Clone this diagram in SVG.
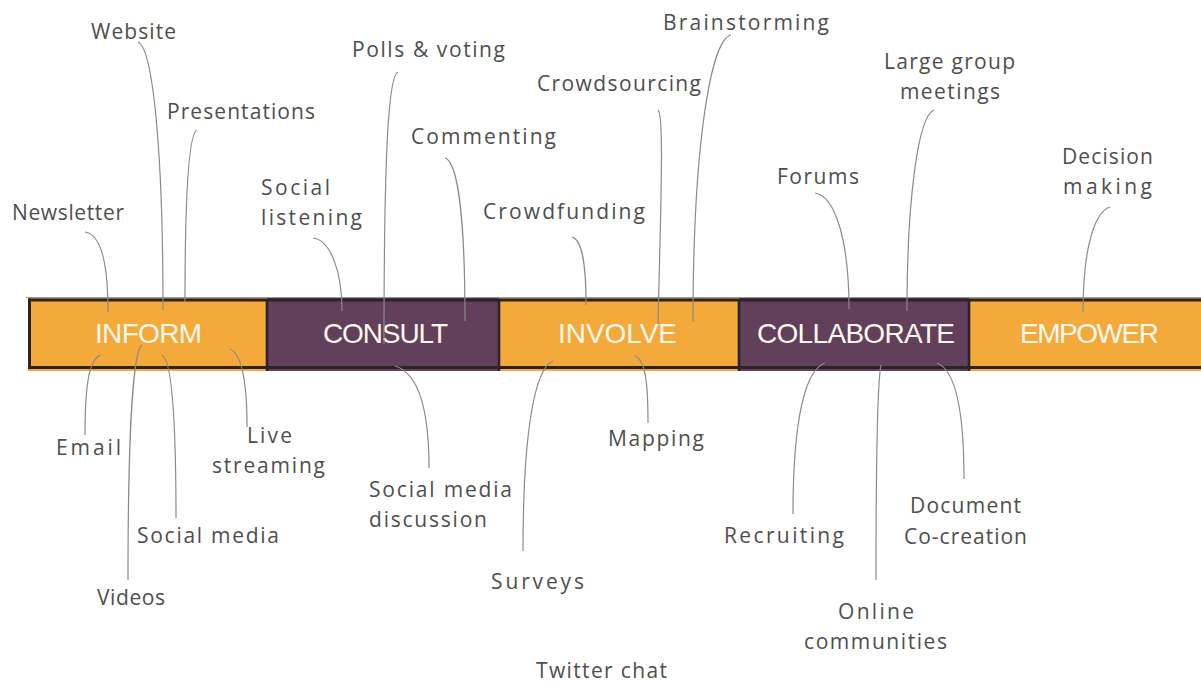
<svg xmlns="http://www.w3.org/2000/svg" width="1201" height="684" viewBox="0 0 1201 684">
<style>
.lbl{font-family:"Open Sans","Liberation Sans",sans-serif;font-size:21px;fill:#4E4E4E}
.bar{font-family:"Liberation Sans","DejaVu Sans",sans-serif;font-size:28px;fill:#FFF8EC}
.seg-o{fill:#F4A93B}
.seg-p{fill:#62405B}
.edge{stroke:#2B2326;fill:none}
#connectors path{fill:none;stroke:#8A8A8A;stroke-width:1.2}
</style>
<rect x="0" y="0" width="1201" height="684" fill="#FFFFFF"/>
<g id="bar">
  <line x1="26" y1="297.5" x2="1201" y2="297.5" stroke="#9A9A9A" stroke-width="1"/>
  <g id="inform"><rect class="seg-o" x="28" y="298" width="239" height="73"/><text class="bar" x="95" y="343" textLength="107" lengthAdjust="spacing">INFORM</text></g>
  <g id="consult"><rect class="seg-p" x="267" y="298" width="232" height="73"/><text class="bar" x="323" y="343" textLength="125" lengthAdjust="spacing">CONSULT</text></g>
  <g id="involve"><rect class="seg-o" x="499" y="298" width="240" height="73"/><text class="bar" x="558" y="343" textLength="119" lengthAdjust="spacing">INVOLVE</text></g>
  <g id="collaborate"><rect class="seg-p" x="739" y="298" width="230" height="73"/><text class="bar" x="757" y="343" textLength="198" lengthAdjust="spacing">COLLABORATE</text></g>
  <g id="empower"><rect class="seg-o" x="969" y="298" width="232" height="73"/><text class="bar" x="1020" y="343" textLength="139" lengthAdjust="spacing">EMPOWER</text></g>
  <line class="edge" x1="28" y1="300" x2="1201" y2="300" stroke-width="3"/>
  <line class="edge" x1="28" y1="367.5" x2="1201" y2="367.5" stroke-width="3"/>
  <line class="edge" x1="29.5" y1="298.5" x2="29.5" y2="369" stroke-width="3"/>
  <line class="edge" x1="267" y1="299" x2="267" y2="371" stroke-width="2.6"/>
  <line class="edge" x1="499" y1="299" x2="499" y2="371" stroke-width="2.6"/>
  <line class="edge" x1="739" y1="299" x2="739" y2="371" stroke-width="2.6"/>
  <line class="edge" x1="969" y1="299" x2="969" y2="371" stroke-width="2.6"/>
</g>
<g id="connectors">
  <path d="M85,232 C100,234 108,260 108,312"/>
  <path d="M138,42 C152,48 163,140 163,310"/>
  <path d="M197,130 C188,134 185,200 185,302"/>
  <path d="M313,238 C330,240 342,270 342,311"/>
  <path d="M398,72 C388,76 384,160 384,344"/>
  <path d="M445,158 C458,162 465,220 465,321"/>
  <path d="M572,237 C582,240 586,262 586,305"/>
  <path d="M658,110 C664,114 661,200 658,324"/>
  <path d="M731,35 C710,40 693,150 693,322"/>
  <path d="M815,193 C835,196 849,240 849,309"/>
  <path d="M934,110 C918,116 907,200 907,311"/>
  <path d="M1110,207 C1094,212 1083,250 1083,312"/>
  <path d="M100,355 C90,360 85,380 85,435"/>
  <path d="M142,345 C134,350 128,420 128,580"/>
  <path d="M162,355 C172,360 176,420 176,518"/>
  <path d="M230,349 C242,354 247,380 247,427"/>
  <path d="M395,366 C415,372 429,400 429,468"/>
  <path d="M553,361 C535,368 523,430 523,551"/>
  <path d="M635,356 C645,360 648,380 648,423"/>
  <path d="M825,363 C805,370 793,420 793,514"/>
  <path d="M881,365 C878,380 876,450 876,580"/>
  <path d="M937,363 C955,370 964,410 964,479"/>
</g>
<g id="website"><text class="lbl" x="91" y="39" textLength="85" lengthAdjust="spacing">Website</text></g>
<g id="presentations"><text class="lbl" x="167" y="119" textLength="148" lengthAdjust="spacing">Presentations</text></g>
<g id="polls"><text class="lbl" x="352" y="57" textLength="153" lengthAdjust="spacing">Polls &amp; voting</text></g>
<g id="brainstorming"><text class="lbl" x="663" y="30" textLength="166" lengthAdjust="spacing">Brainstorming</text></g>
<g id="crowdsourcing"><text class="lbl" x="537" y="91" textLength="164" lengthAdjust="spacing">Crowdsourcing</text></g>
<g id="commenting"><text class="lbl" x="411" y="144" textLength="145" lengthAdjust="spacing">Commenting</text></g>
<g id="large-group"><text class="lbl" x="884" y="69" textLength="131" lengthAdjust="spacing">Large group</text><text class="lbl" x="900" y="99" textLength="100" lengthAdjust="spacing">meetings</text></g>
<g id="social-listening"><text class="lbl" x="261" y="195" textLength="69" lengthAdjust="spacing">Social</text><text class="lbl" x="261" y="225" textLength="101" lengthAdjust="spacing">listening</text></g>
<g id="newsletter"><text class="lbl" x="12" y="220" textLength="112" lengthAdjust="spacing">Newsletter</text></g>
<g id="crowdfunding"><text class="lbl" x="483" y="219" textLength="162" lengthAdjust="spacing">Crowdfunding</text></g>
<g id="forums"><text class="lbl" x="777" y="184" textLength="82" lengthAdjust="spacing">Forums</text></g>
<g id="decision"><text class="lbl" x="1062" y="164" textLength="91" lengthAdjust="spacing">Decision</text><text class="lbl" x="1063" y="194" textLength="89" lengthAdjust="spacing">making</text></g>
<g id="email"><text class="lbl" x="56" y="455" textLength="65" lengthAdjust="spacing">Email</text></g>
<g id="live"><text class="lbl" x="247" y="443" textLength="45" lengthAdjust="spacing">Live</text><text class="lbl" x="212" y="473" textLength="113" lengthAdjust="spacing">streaming</text></g>
<g id="social-media"><text class="lbl" x="137" y="543" textLength="142" lengthAdjust="spacing">Social media</text></g>
<g id="videos"><text class="lbl" x="97" y="605" textLength="68" lengthAdjust="spacing">Videos</text></g>
<g id="smd"><text class="lbl" x="369" y="497" textLength="143" lengthAdjust="spacing">Social media</text><text class="lbl" x="369" y="527" textLength="118" lengthAdjust="spacing">discussion</text></g>
<g id="mapping"><text class="lbl" x="608" y="446" textLength="96" lengthAdjust="spacing">Mapping</text></g>
<g id="surveys"><text class="lbl" x="491" y="589" textLength="93" lengthAdjust="spacing">Surveys</text></g>
<g id="twitter"><text class="lbl" x="536" y="678" textLength="131" lengthAdjust="spacing">Twitter chat</text></g>
<g id="recruiting"><text class="lbl" x="724" y="543" textLength="120" lengthAdjust="spacing">Recruiting</text></g>
<g id="document"><text class="lbl" x="910" y="513" textLength="111" lengthAdjust="spacing">Document</text><text class="lbl" x="904" y="544" textLength="123" lengthAdjust="spacing">Co-creation</text></g>
<g id="online"><text class="lbl" x="838" y="619" textLength="76" lengthAdjust="spacing">Online</text><text class="lbl" x="804" y="649" textLength="143" lengthAdjust="spacing">communities</text></g>
</svg>
